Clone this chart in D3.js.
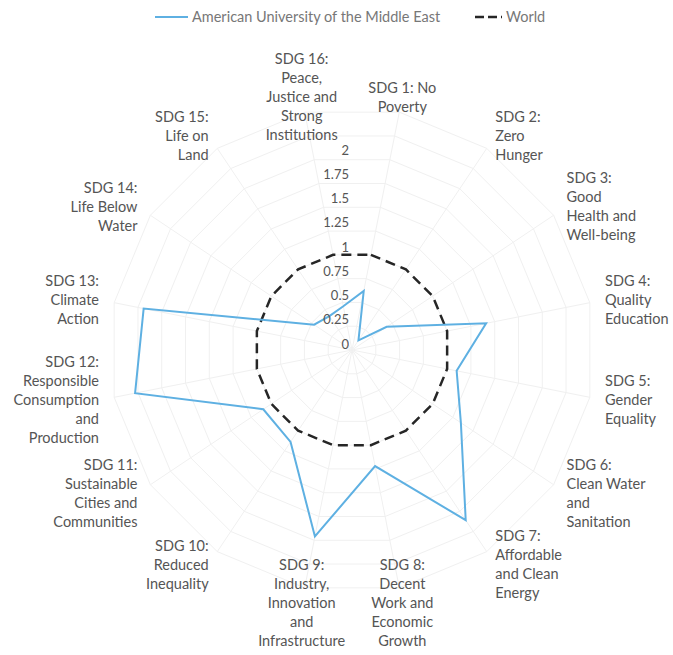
<!DOCTYPE html>
<html>
<head>
<meta charset="utf-8">
<script src="https://cdn.jsdelivr.net/npm/d3@7"></script>
<style>
  html, body { margin: 0; padding: 0; background: #fff; }
  svg { display: block; }
  text { font-family: Lato, "Open Sans", sans-serif; }
</style>
</head>
<body>
<svg id="chart" width="673" height="655"></svg>
<script>
// ---------- data ----------
const categories = [
  "SDG 1: No\nPoverty",
  "SDG 2:\nZero\nHunger",
  "SDG 3:\nGood\nHealth and\nWell-being",
  "SDG 4:\nQuality\nEducation",
  "SDG 5:\nGender\nEquality",
  "SDG 6:\nClean Water\nand\nSanitation",
  "SDG 7:\nAffordable\nand Clean\nEnergy",
  "SDG 8:\nDecent\nWork and\nEconomic\nGrowth",
  "SDG 9:\nIndustry,\nInnovation\nand\nInfrastructure",
  "SDG 10:\nReduced\nInequality",
  "SDG 11:\nSustainable\nCities and\nCommunities",
  "SDG 12:\nResponsible\nConsumption\nand\nProduction",
  "SDG 13:\nClimate\nAction",
  "SDG 14:\nLife Below\nWater",
  "SDG 15:\nLife on\nLand",
  "SDG 16:\nPeace,\nJustice and\nStrong\nInstitutions"
];
const seriesNames = ["American University of the Middle East", "World"];
const universityValues = [0.62, 0.12, 0.43, 1.41, 1.10, 1.35, 2.11, 1.22, 1.96, 1.14, 1.10, 2.28, 2.19, 0.47, 0.42, 0.46];
const worldValues = [1, 1, 1, 1, 1, 1, 1, 1, 1, 1, 1, 1, 1, 1, 1, 1];
const tickValues = [0, 0.25, 0.5, 0.75, 1, 1.25, 1.5, 1.75, 2];
const tickLabels = ["0", "0.25", "0.5", "0.75", "1", "1.25", "1.5", "1.75", "2"];
const gridValues = [0.25, 0.5, 0.75, 1, 1.25, 1.5, 1.75, 2, 2.25, 2.5];
const axisMax = 2.5;

// ---------- layout ----------
const svg = d3.select("#chart");
const cx = 352, cy = 350;
const rMax = 242.5;
const labelR = 258;
const n = categories.length;
const r = d3.scaleLinear().domain([0, axisMax]).range([0, rMax]);
const angle = d3.scaleLinear().domain([0, n]).range([Math.PI / n, Math.PI / n + 2 * Math.PI]);

const g = svg.append("g").attr("transform", `translate(${cx},${cy})`);

const radial = d3.lineRadial()
  .angle((d, i) => angle(i))
  .radius(d => r(d))
  .curve(d3.curveLinearClosed);

// grid polygons
g.selectAll("path.grid").data(gridValues).join("path")
  .attr("class", "grid")
  .attr("d", v => radial(categories.map(() => v)))
  .attr("fill", "none")
  .attr("stroke", "#f0f0f0")
  .attr("stroke-width", 1);

// spokes
g.selectAll("line.spoke").data(categories).join("line")
  .attr("class", "spoke")
  .attr("x1", 0).attr("y1", 0)
  .attr("x2", (d, i) => r(axisMax) * Math.sin(angle(i)))
  .attr("y2", (d, i) => -r(axisMax) * Math.cos(angle(i)))
  .attr("stroke", "#f0f0f0")
  .attr("stroke-width", 1);

// category labels
categories.forEach((cat, i) => {
  const a = angle(i);
  const s = Math.sin(a), c = Math.cos(a);
  const x = labelR * s, y = -labelR * c;
  const anchor = s > 0.3 ? "start" : (s < -0.3 ? "end" : "middle");
  const lines = cat.split("\n");
  const lh = 19;
  const y0 = y - (lines.length - 1) * lh / 2;
  const t = g.append("text")
    .attr("text-anchor", anchor)
    .attr("font-size", 14.5)
    .attr("fill", "#555");
  lines.forEach((ln, j) => {
    t.append("tspan").attr("x", x).attr("y", y0 + j * lh).attr("dy", "0.35em").text(ln);
  });
});

// series
g.append("path")
  .attr("d", radial(worldValues))
  .attr("fill", "none")
  .attr("stroke", "#262626")
  .attr("stroke-width", 2.5)
  .attr("stroke-dasharray", "10,6");

g.append("path")
  .attr("d", radial(universityValues))
  .attr("fill", "none")
  .attr("stroke", "#5eb0e2")
  .attr("stroke-width", 2)
  .attr("stroke-linejoin", "miter");

// radial tick labels
g.selectAll("text.tick").data(tickValues).join("text")
  .attr("class", "tick")
  .attr("x", -3)
  .attr("y", d => -r(d) - 6)
  .attr("dy", "0.35em")
  .attr("text-anchor", "end")
  .attr("font-size", 13)
  .attr("fill", "#555")
  .text((d, i) => tickLabels[i]);

// legend
const leg = svg.append("g").attr("transform", "translate(0,17)");
leg.append("line").attr("x1", 155).attr("x2", 188).attr("y1", 0).attr("y2", 0)
  .attr("stroke", "#5eb0e2").attr("stroke-width", 2);
leg.append("text").attr("x", 192).attr("y", 0).attr("dy", "0.35em")
  .attr("font-size", 14.5).attr("fill", "#777").text(seriesNames[0]);
leg.append("line").attr("x1", 475).attr("x2", 502).attr("y1", 0).attr("y2", 0)
  .attr("stroke", "#262626").attr("stroke-width", 2.5).attr("stroke-dasharray", "9,4");
leg.append("text").attr("x", 506).attr("y", 0).attr("dy", "0.35em")
  .attr("font-size", 14.5).attr("fill", "#777").text(seriesNames[1]);
</script>
</body>
</html>
